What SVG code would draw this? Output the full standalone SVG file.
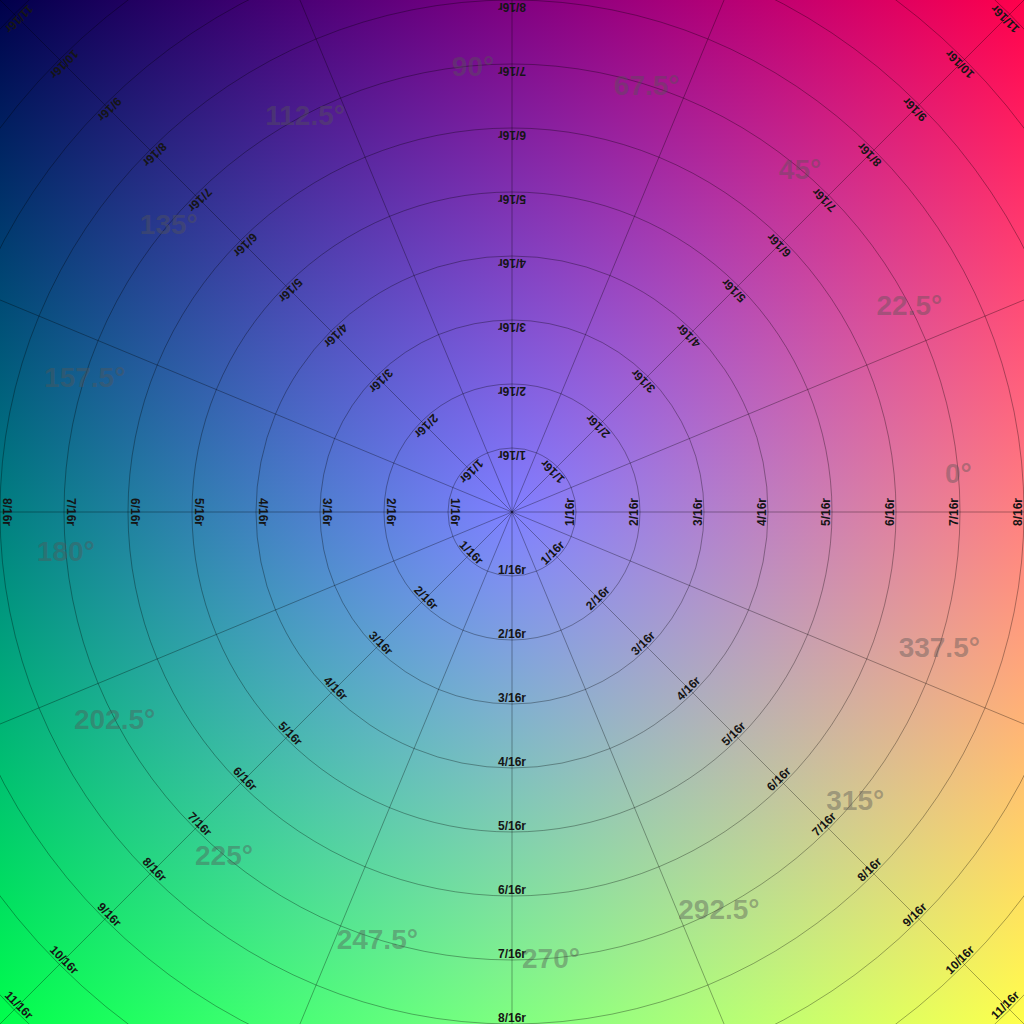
<svg xmlns="http://www.w3.org/2000/svg" width="1024" height="1024" viewBox="0 0 1024 1024">
<defs>
<linearGradient id="gr" x1="0" y1="0" x2="1024" y2="0" gradientUnits="userSpaceOnUse"><stop offset="0" stop-color="#000"/><stop offset="1" stop-color="#f00"/></linearGradient>
<linearGradient id="gg" x1="0" y1="0" x2="0" y2="1024" gradientUnits="userSpaceOnUse"><stop offset="0" stop-color="#000"/><stop offset="1" stop-color="#0f0"/></linearGradient>
<radialGradient id="gb" cx="512" cy="512" r="1024" gradientUnits="userSpaceOnUse"><stop offset="0" stop-color="#00f"/><stop offset="1" stop-color="#000"/></radialGradient>
<style>
.ring{fill:none;stroke:#000;stroke-opacity:0.32;stroke-width:1}
.spoke{stroke:#000;stroke-opacity:0.32;stroke-width:1}
.rl{font-family:"Liberation Sans",Arial,sans-serif;font-weight:bold;font-size:12px;fill:#151515;text-anchor:middle}
.al{font-family:"Liberation Sans",Arial,sans-serif;font-weight:bold;font-size:28px;fill:#555;fill-opacity:0.42;text-anchor:middle}
</style>
</defs>
<g id="background" style="isolation:isolate">
<rect width="1024" height="1024" fill="url(#gr)"/>
<rect width="1024" height="1024" fill="url(#gg)" style="mix-blend-mode:screen"/>
<rect width="1024" height="1024" fill="url(#gb)" style="mix-blend-mode:screen"/>
</g>
<g id="rings">
<circle class="ring" cx="512" cy="512" r="64"/>
<circle class="ring" cx="512" cy="512" r="128"/>
<circle class="ring" cx="512" cy="512" r="192"/>
<circle class="ring" cx="512" cy="512" r="256"/>
<circle class="ring" cx="512" cy="512" r="320"/>
<circle class="ring" cx="512" cy="512" r="384"/>
<circle class="ring" cx="512" cy="512" r="448"/>
<circle class="ring" cx="512" cy="512" r="512"/>
<circle class="ring" cx="512" cy="512" r="576"/>
<circle class="ring" cx="512" cy="512" r="640"/>
<circle class="ring" cx="512" cy="512" r="704"/>
</g>
<g id="connectors">
<line class="spoke" x1="512" y1="512" x2="1312" y2="512"/>
<line class="spoke" x1="512" y1="512" x2="1251.1" y2="205.9"/>
<line class="spoke" x1="512" y1="512" x2="1077.7" y2="-53.7"/>
<line class="spoke" x1="512" y1="512" x2="818.1" y2="-227.1"/>
<line class="spoke" x1="512" y1="512" x2="512" y2="-288"/>
<line class="spoke" x1="512" y1="512" x2="205.9" y2="-227.1"/>
<line class="spoke" x1="512" y1="512" x2="-53.7" y2="-53.7"/>
<line class="spoke" x1="512" y1="512" x2="-227.1" y2="205.9"/>
<line class="spoke" x1="512" y1="512" x2="-288" y2="512"/>
<line class="spoke" x1="512" y1="512" x2="-227.1" y2="818.1"/>
<line class="spoke" x1="512" y1="512" x2="-53.7" y2="1077.7"/>
<line class="spoke" x1="512" y1="512" x2="205.9" y2="1251.1"/>
<line class="spoke" x1="512" y1="512" x2="512" y2="1312"/>
<line class="spoke" x1="512" y1="512" x2="818.1" y2="1251.1"/>
<line class="spoke" x1="512" y1="512" x2="1077.7" y2="1077.7"/>
<line class="spoke" x1="512" y1="512" x2="1251.1" y2="818.1"/>
</g>
<g id="radius-labels">
<!-- right s=0 -->
<text class="rl" transform="translate(576 512) rotate(-90)" y="-2.5">1/16r</text>
<text class="rl" transform="translate(640 512) rotate(-90)" y="-2.5">2/16r</text>
<text class="rl" transform="translate(704 512) rotate(-90)" y="-2.5">3/16r</text>
<text class="rl" transform="translate(768 512) rotate(-90)" y="-2.5">4/16r</text>
<text class="rl" transform="translate(832 512) rotate(-90)" y="-2.5">5/16r</text>
<text class="rl" transform="translate(896 512) rotate(-90)" y="-2.5">6/16r</text>
<text class="rl" transform="translate(960 512) rotate(-90)" y="-2.5">7/16r</text>
<text class="rl" transform="translate(1024 512) rotate(-90)" y="-2.5">8/16r</text>
<!-- bottom-right s=45 -->
<text class="rl" transform="translate(557.25 557.25) rotate(-45)" y="-2.5">1/16r</text>
<text class="rl" transform="translate(602.51 602.51) rotate(-45)" y="-2.5">2/16r</text>
<text class="rl" transform="translate(647.76 647.76) rotate(-45)" y="-2.5">3/16r</text>
<text class="rl" transform="translate(693.02 693.02) rotate(-45)" y="-2.5">4/16r</text>
<text class="rl" transform="translate(738.27 738.27) rotate(-45)" y="-2.5">5/16r</text>
<text class="rl" transform="translate(783.53 783.53) rotate(-45)" y="-2.5">6/16r</text>
<text class="rl" transform="translate(828.78 828.78) rotate(-45)" y="-2.5">7/16r</text>
<text class="rl" transform="translate(874.04 874.04) rotate(-45)" y="-2.5">8/16r</text>
<text class="rl" transform="translate(919.29 919.29) rotate(-45)" y="-2.5">9/16r</text>
<text class="rl" transform="translate(964.55 964.55) rotate(-45)" y="-2.5">10/16r</text>
<text class="rl" transform="translate(1009.8 1009.8) rotate(-45)" y="-2.5">11/16r</text>
<!-- bottom s=90 -->
<text class="rl" transform="translate(512 576)" y="-2.5">1/16r</text>
<text class="rl" transform="translate(512 640)" y="-2.5">2/16r</text>
<text class="rl" transform="translate(512 704)" y="-2.5">3/16r</text>
<text class="rl" transform="translate(512 768)" y="-2.5">4/16r</text>
<text class="rl" transform="translate(512 832)" y="-2.5">5/16r</text>
<text class="rl" transform="translate(512 896)" y="-2.5">6/16r</text>
<text class="rl" transform="translate(512 960)" y="-2.5">7/16r</text>
<text class="rl" transform="translate(512 1024)" y="-2.5">8/16r</text>
<!-- bottom-left s=135 -->
<text class="rl" transform="translate(466.75 557.25) rotate(45)" y="-2.5">1/16r</text>
<text class="rl" transform="translate(421.49 602.51) rotate(45)" y="-2.5">2/16r</text>
<text class="rl" transform="translate(376.24 647.76) rotate(45)" y="-2.5">3/16r</text>
<text class="rl" transform="translate(330.98 693.02) rotate(45)" y="-2.5">4/16r</text>
<text class="rl" transform="translate(285.73 738.27) rotate(45)" y="-2.5">5/16r</text>
<text class="rl" transform="translate(240.47 783.53) rotate(45)" y="-2.5">6/16r</text>
<text class="rl" transform="translate(195.22 828.78) rotate(45)" y="-2.5">7/16r</text>
<text class="rl" transform="translate(149.96 874.04) rotate(45)" y="-2.5">8/16r</text>
<text class="rl" transform="translate(104.71 919.29) rotate(45)" y="-2.5">9/16r</text>
<text class="rl" transform="translate(59.45 964.55) rotate(45)" y="-2.5">10/16r</text>
<text class="rl" transform="translate(14.2 1009.8) rotate(45)" y="-2.5">11/16r</text>
<!-- left s=180 -->
<text class="rl" transform="translate(448 512) rotate(90)" y="-2.5">1/16r</text>
<text class="rl" transform="translate(384 512) rotate(90)" y="-2.5">2/16r</text>
<text class="rl" transform="translate(320 512) rotate(90)" y="-2.5">3/16r</text>
<text class="rl" transform="translate(256 512) rotate(90)" y="-2.5">4/16r</text>
<text class="rl" transform="translate(192 512) rotate(90)" y="-2.5">5/16r</text>
<text class="rl" transform="translate(128 512) rotate(90)" y="-2.5">6/16r</text>
<text class="rl" transform="translate(64 512) rotate(90)" y="-2.5">7/16r</text>
<text class="rl" transform="translate(0 512) rotate(90)" y="-2.5">8/16r</text>
<!-- top-left s=225 -->
<text class="rl" transform="translate(466.75 466.75) rotate(135)" y="-2.5">1/16r</text>
<text class="rl" transform="translate(421.49 421.49) rotate(135)" y="-2.5">2/16r</text>
<text class="rl" transform="translate(376.24 376.24) rotate(135)" y="-2.5">3/16r</text>
<text class="rl" transform="translate(330.98 330.98) rotate(135)" y="-2.5">4/16r</text>
<text class="rl" transform="translate(285.73 285.73) rotate(135)" y="-2.5">5/16r</text>
<text class="rl" transform="translate(240.47 240.47) rotate(135)" y="-2.5">6/16r</text>
<text class="rl" transform="translate(195.22 195.22) rotate(135)" y="-2.5">7/16r</text>
<text class="rl" transform="translate(149.96 149.96) rotate(135)" y="-2.5">8/16r</text>
<text class="rl" transform="translate(104.71 104.71) rotate(135)" y="-2.5">9/16r</text>
<text class="rl" transform="translate(59.45 59.45) rotate(135)" y="-2.5">10/16r</text>
<text class="rl" transform="translate(14.2 14.2) rotate(135)" y="-2.5">11/16r</text>
<!-- top s=270 -->
<text class="rl" transform="translate(512 448) rotate(180)" y="-2.5">1/16r</text>
<text class="rl" transform="translate(512 384) rotate(180)" y="-2.5">2/16r</text>
<text class="rl" transform="translate(512 320) rotate(180)" y="-2.5">3/16r</text>
<text class="rl" transform="translate(512 256) rotate(180)" y="-2.5">4/16r</text>
<text class="rl" transform="translate(512 192) rotate(180)" y="-2.5">5/16r</text>
<text class="rl" transform="translate(512 128) rotate(180)" y="-2.5">6/16r</text>
<text class="rl" transform="translate(512 64) rotate(180)" y="-2.5">7/16r</text>
<text class="rl" transform="translate(512 0) rotate(180)" y="-2.5">8/16r</text>
<!-- top-right s=315 -->
<text class="rl" transform="translate(557.25 466.75) rotate(225)" y="-2.5">1/16r</text>
<text class="rl" transform="translate(602.51 421.49) rotate(225)" y="-2.5">2/16r</text>
<text class="rl" transform="translate(647.76 376.24) rotate(225)" y="-2.5">3/16r</text>
<text class="rl" transform="translate(693.02 330.98) rotate(225)" y="-2.5">4/16r</text>
<text class="rl" transform="translate(738.27 285.73) rotate(225)" y="-2.5">5/16r</text>
<text class="rl" transform="translate(783.53 240.47) rotate(225)" y="-2.5">6/16r</text>
<text class="rl" transform="translate(828.78 195.22) rotate(225)" y="-2.5">7/16r</text>
<text class="rl" transform="translate(874.04 149.96) rotate(225)" y="-2.5">8/16r</text>
<text class="rl" transform="translate(919.29 104.71) rotate(225)" y="-2.5">9/16r</text>
<text class="rl" transform="translate(964.55 59.45) rotate(225)" y="-2.5">10/16r</text>
<text class="rl" transform="translate(1009.8 14.2) rotate(225)" y="-2.5">11/16r</text>
</g>
<g id="angle-labels">
<text class="al" x="958.3" y="472.9" dy="0.36em">0°</text>
<text class="al" x="909.4" y="305.1" dy="0.36em">22.5°</text>
<text class="al" x="800.0" y="168.8" dy="0.36em">45°</text>
<text class="al" x="646.7" y="84.7" dy="0.36em">67.5°</text>
<text class="al" x="473.0" y="65.7" dy="0.36em">90°</text>
<text class="al" x="305.1" y="114.6" dy="0.36em">112.5°</text>
<text class="al" x="168.8" y="224.0" dy="0.36em">135°</text>
<text class="al" x="84.7" y="377.3" dy="0.36em">157.5°</text>
<text class="al" x="65.7" y="551.0" dy="0.36em">180°</text>
<text class="al" x="114.6" y="718.9" dy="0.36em">202.5°</text>
<text class="al" x="224.0" y="855.2" dy="0.36em">225°</text>
<text class="al" x="377.3" y="939.3" dy="0.36em">247.5°</text>
<text class="al" x="551.0" y="958.3" dy="0.36em">270°</text>
<text class="al" x="718.9" y="909.4" dy="0.36em">292.5°</text>
<text class="al" x="855.2" y="800.0" dy="0.36em">315°</text>
<text class="al" x="939.3" y="646.7" dy="0.36em">337.5°</text>
</g>
</svg>
